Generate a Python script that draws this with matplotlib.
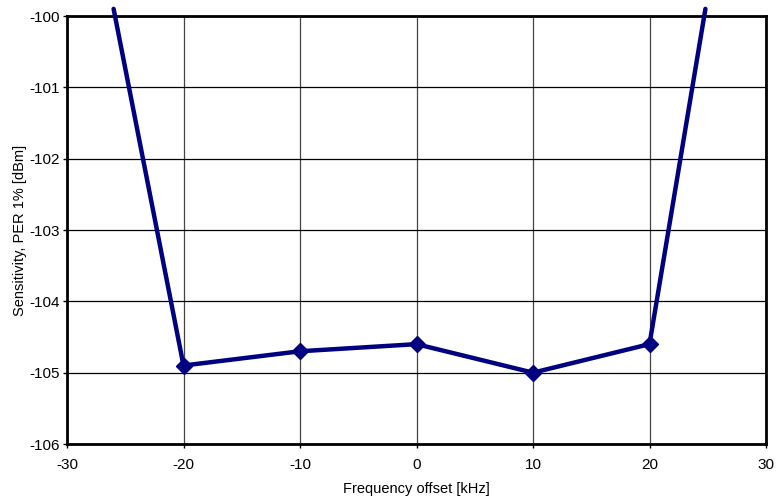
import matplotlib
matplotlib.use("Agg")
from matplotlib import pyplot as plt


# frequency offset [kHz] and sensitivity [dBm]; ends run off the top of the chart
offset_khz = [-26.0, -20, -10, 0, 10, 20, 24.8]
sensitivity_dbm = [-99.9, -104.9, -104.7, -104.6, -105.0, -104.6, -99.9]
marker_idx = [1, 2, 3, 4, 5]

x_ticks = [-30, -20, -10, 0, 10, 20, 30]
y_ticks = [-106, -105, -104, -103, -102, -101, -100]


def main():
	plt.rcParams["font.family"] = ["Liberation Sans", "DejaVu Sans"]

	fig = plt.figure(figsize=(7.76, 4.97), dpi=100)
	ax = fig.add_axes([67 / 776, 1 - 444 / 497, (766 - 67) / 776, (444 - 16) / 497])

	ax.plot(offset_khz, sensitivity_dbm, color="#000080", linewidth=3.2,
		marker="D", markersize=8.5, markevery=marker_idx,
		solid_capstyle="round", solid_joinstyle="round", clip_on=False, zorder=5)

	ax.set_xlim(-30, 30)
	ax.set_ylim(-106, -100)
	ax.set_xticks(x_ticks)
	ax.set_yticks(y_ticks)
	ax.xaxis.set_major_formatter(plt.FuncFormatter(lambda v, p: f"{v:.0f}"))
	ax.yaxis.set_major_formatter(plt.FuncFormatter(lambda v, p: f"{v:.0f}"))

	ax.grid(True, color="black", linewidth=0.9)
	ax.xaxis.grid(True, color="#444444", linewidth=0.9)
	ax.set_axisbelow(True)

	for s in ax.spines.values():
		s.set_linewidth(2)
		s.set_color("black")

	ax.tick_params(direction="out", length=3, width=1, labelsize=11)
	ax.tick_params(axis="x", pad=7)
	ax.tick_params(axis="y", pad=2)

	ax.set_xlabel("Frequency offset [kHz]", fontsize=10.5, labelpad=7)
	ax.set_ylabel("Sensitivity, PER 1% [dBm]", fontsize=10.5, labelpad=2)

	fig.savefig("out.png", dpi=100)


if __name__ == "__main__":
	main()
